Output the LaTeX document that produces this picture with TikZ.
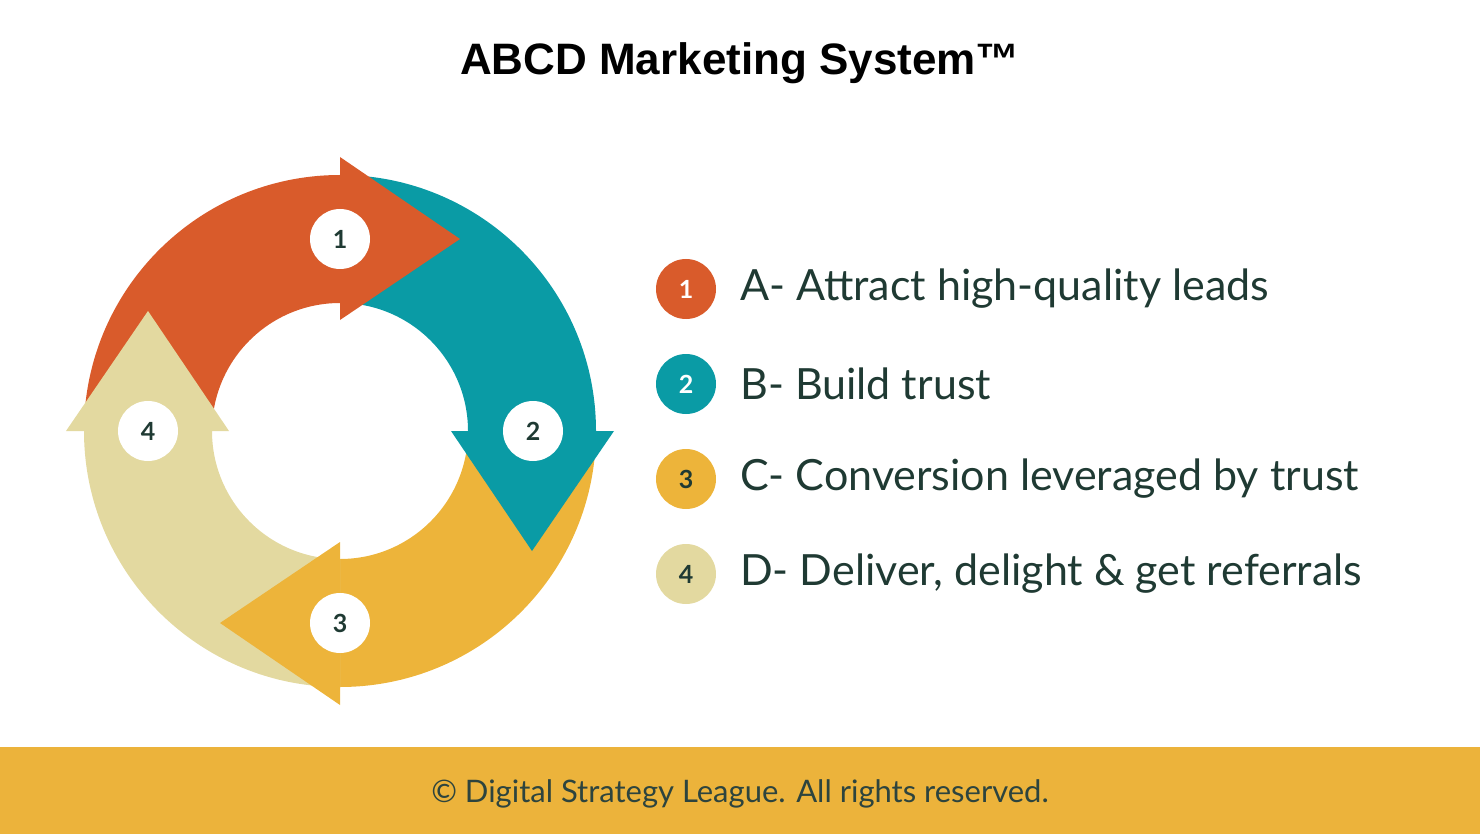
\documentclass[tikz,border=0pt]{standalone}
\usepackage{fontspec}
\usetikzlibrary{calc}
\newfontfamily\lato{Lato}
\newfontfamily\titlefont{Liberation Sans}
\definecolor{corange}{HTML}{D95B2B}
\definecolor{cteal}{HTML}{0A9BA5}
\definecolor{cyellow}{HTML}{EDB43A}
\definecolor{cbeige}{HTML}{E3D9A0}
\definecolor{ctext}{HTML}{1F3A33}
\definecolor{cbar}{HTML}{ECB33B}
\begin{document}
\begin{tikzpicture}[x=1pt,y=1pt,
  numcirc/.style={circle,fill=white,minimum size=60pt,inner sep=0pt,font=\lato\bfseries\fontsize{25}{25}\selectfont,text=ctext},
  legcirc/.style={circle,minimum size=60pt,inner sep=0pt,font=\lato\bfseries\fontsize{25}{25}\selectfont,text=white},
  legtext/.style={anchor=west,inner sep=0pt,font=\lato\fontsize{43}{43}\selectfont,text=ctext}]
\useasboundingbox (0,0) rectangle (1480,-834);
\fill[cbar] (0,-747) rectangle (1480,-834);
\node[font=\titlefont\bfseries\fontsize{44}{44}\selectfont] (title) at (740,-63) {ABCD Marketing System™};
\node[font=\lato\fontsize{31}{31}\selectfont,text=ctext!85!gray] (foot) at (740,-794) {© Digital Strategy League. All rights reserved.};
\coordinate (C) at (340,-431);
% bodies
\foreach \a/\c in {180/corange,90/cteal,0/cyellow,-90/cbeige}{
  \fill[\c] ($(C)+(\a:256)$) arc[start angle=\a,end angle=\a-90,radius=256]
     -- ($(C)+(\a-90:128)$) arc[start angle=\a-90,end angle=\a,radius=128] -- cycle;
}
% heads
\foreach \a/\c in {90/corange,0/cteal,-90/cyellow,-180/cbeige}{
  \fill[\c] ($(C)+(\a:111)$) -- ($(C)+(\a:274)$) -- ($(C)+(\a:192)+(\a-90:120)$) -- cycle;
}
\node[numcirc] (n1) at (340,-239) {1};
\node[numcirc] (n2) at (533,-431) {2};
\node[numcirc] (n3) at (340,-623) {3};
\node[numcirc] (n4) at (148,-431) {4};
\node[legcirc,fill=corange] (l1) at (686,-289) {1};
\node[legcirc,fill=cteal] (l2) at (686,-384) {2};
\node[legcirc,fill=cyellow,text=ctext] (l3) at (686,-479) {3};
\node[legcirc,fill=cbeige,text=ctext] (l4) at (686,-574) {4};
\node[legtext] (t1) at (740,-289) {A- Attract high-quality leads};
\node[legtext] (t2) at (740,-384) {B- Build trust};
\node[legtext] (t3) at (740,-479) {C- Conversion leveraged by trust};
\node[legtext] (t4) at (740,-574) {D- Deliver, delight \& get referrals};
\end{tikzpicture}
\end{document}
